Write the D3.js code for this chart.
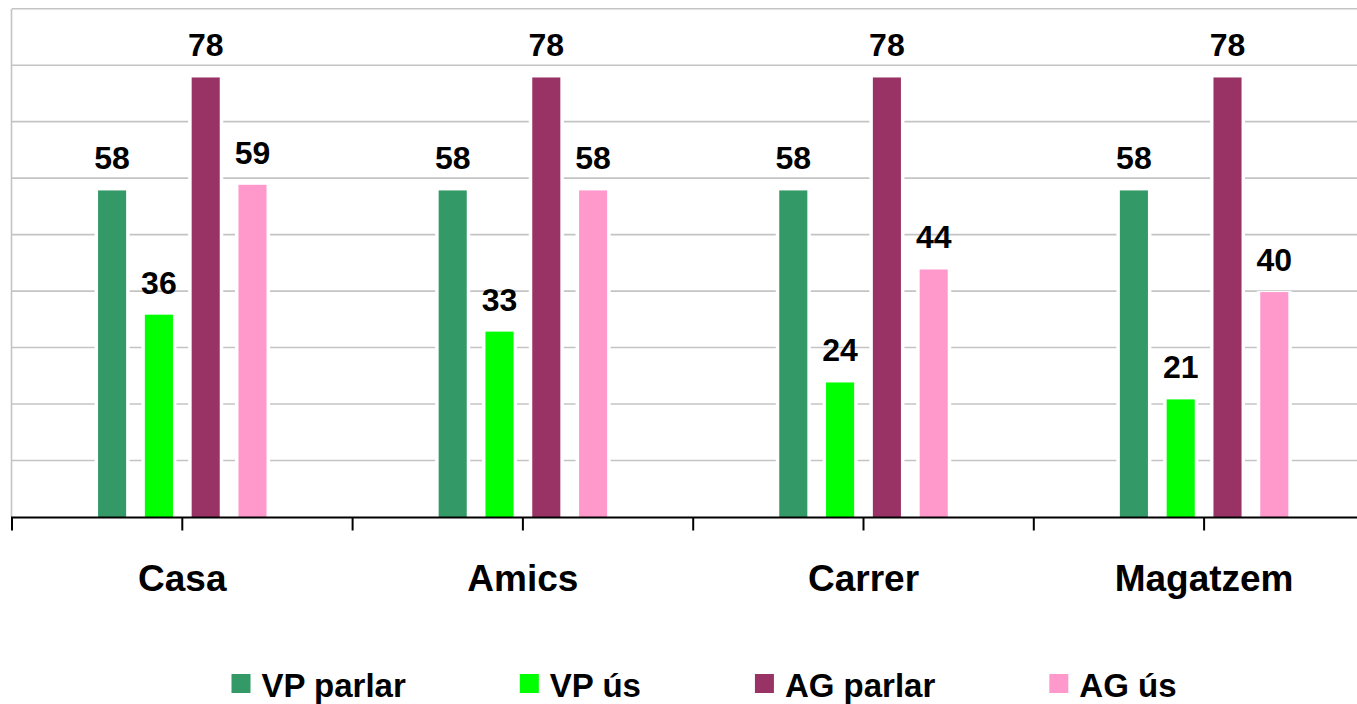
<!DOCTYPE html>
<html>
<head>
<meta charset="utf-8">
<script src="https://cdn.jsdelivr.net/npm/d3@7"></script>
<style>
  html, body { margin: 0; padding: 0; background: #fff; overflow: hidden; }
  svg { display: block; }
  text { font-family: "Liberation Sans", Arial, sans-serif; font-weight: bold; fill: #000; }
</style>
</head>
<body>
<svg id="chart" width="1357" height="704"></svg>
<script>
const categories = ["Casa", "Amics", "Carrer", "Magatzem"];
const seriesNames = ["VP parlar", "VP ús", "AG parlar", "AG ús"];
const vpParlar = [58, 58, 58, 58];
const vpUs = [36, 33, 24, 21];
const agParlar = [78, 78, 78, 78];
const agUs = [59, 58, 44, 40];
const colors = ["#339966", "#00FF00", "#993366", "#FF99CC"];
const yTicks = [0, 10, 20, 30, 40, 50, 60, 70, 80, 90];

const seriesValues = [vpParlar, vpUs, agParlar, agUs];

const svg = d3.select("#chart");

const x0 = d3.scaleBand().domain(categories).range([12, 1374.4]).padding(0);
const groupHalf = 93.6;
const x1 = d3.scaleBand().domain(seriesNames)
  .range([x0.bandwidth() / 2 - groupHalf, x0.bandwidth() / 2 + groupHalf])
  .paddingInner(0.4).paddingOuter(0.2);
const y = d3.scaleLinear().domain([0, 90]).range([517, 8.7]);

// gridlines
svg.append("g").selectAll("line").data(yTicks.filter(d => d > 0)).join("line")
  .attr("x1", 12).attr("x2", 1374.4)
  .attr("y1", d => y(d)).attr("y2", d => y(d))
  .attr("stroke", "#c4c4c4").attr("stroke-width", 1.6);

// left axis line
svg.append("line").attr("x1", 11.5).attr("x2", 11.5).attr("y1", y(90)).attr("y2", y(0))
  .attr("stroke", "#c4c4c4").attr("stroke-width", 1.6);

const data = [];
categories.forEach((c, ci) => {
  seriesNames.forEach((s, si) => {
    data.push({ cat: c, series: s, value: seriesValues[si][ci], color: colors[si] });
  });
});

const g = svg.append("g");
// white halo behind bars (interrupts gridlines)
g.selectAll("rect.halo").data(data).join("rect").attr("class", "halo")
  .attr("x", d => x0(d.cat) + x1(d.series) - 3.5)
  .attr("width", x1.bandwidth() + 7)
  .attr("y", d => y(d.value))
  .attr("height", d => y(0) - y(d.value))
  .attr("fill", "#fff");

g.selectAll("rect.bar").data(data).join("rect").attr("class", "bar")
  .attr("x", d => x0(d.cat) + x1(d.series))
  .attr("width", x1.bandwidth())
  .attr("y", d => y(d.value) + 1)
  .attr("height", d => y(0) - y(d.value) - 1)
  .attr("fill", d => d.color);

// data labels
g.selectAll("text.lbl").data(data).join("text").attr("class", "lbl")
  .attr("x", d => x0(d.cat) + x1(d.series) + x1.bandwidth() / 2)
  .attr("y", d => y(d.value) - 20)
  .attr("text-anchor", "middle")
  .attr("font-size", 32)
  .text(d => d.value);

// x axis
const half = x0.bandwidth() / 2;
const tickPos = [];
categories.forEach(c => { tickPos.push(x0(c)); tickPos.push(x0(c) + half); });
tickPos.push(x0(categories[categories.length - 1]) + x0.bandwidth());
svg.append("line").attr("x1", 11).attr("x2", 1374.4).attr("y1", 517.5).attr("y2", 517.5)
  .attr("stroke", "#000").attr("stroke-width", 2);
svg.append("g").selectAll("line").data(tickPos).join("line")
  .attr("x1", d => d).attr("x2", d => d).attr("y1", 517).attr("y2", 530.5)
  .attr("stroke", "#000").attr("stroke-width", 2);

svg.append("g").selectAll("text").data(categories).join("text")
  .attr("x", d => x0(d) + half)
  .attr("y", 591)
  .attr("text-anchor", "middle")
  .attr("font-size", 37)
  .text(d => d);

// legend
const legend = svg.append("g");
const items = legend.selectAll("g").data(seriesNames).join("g");
items.append("rect").attr("width", 19).attr("height", 19).attr("y", 674)
  .attr("fill", (d, i) => colors[i]);
items.append("text").attr("x", 30).attr("y", 697).attr("font-size", 33).text(d => d);
let widths = [];
items.each(function () { widths.push(30 + d3.select(this).select("text").node().getComputedTextLength()); });
const gap = 114;
const total = d3.sum(widths) + gap * (widths.length - 1);
let cx = 704 - total / 2;
items.each(function (d, i) {
  d3.select(this).attr("transform", `translate(${cx},0)`);
  cx += widths[i] + gap;
});
</script>
</body>
</html>
